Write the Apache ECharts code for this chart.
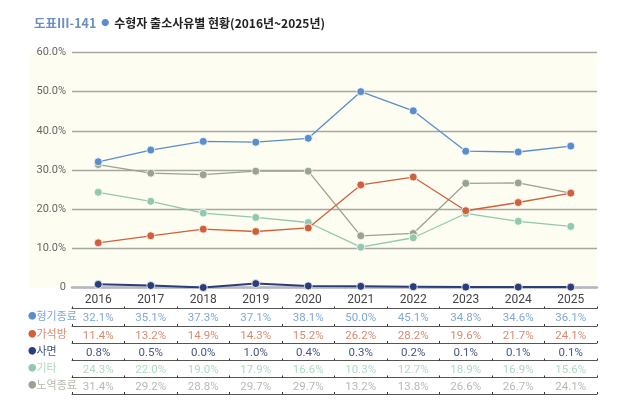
<!DOCTYPE html>
<html>
<head>
<meta charset="utf-8">
<script src="https://cdn.jsdelivr.net/npm/echarts@6/dist/echarts.min.js"></script>
<style>
  html, body { margin: 0; padding: 0; background: #fff; }
  #chart { width: 625px; height: 409px; }
</style>
</head>
<body>
<div id="chart"></div>
<script>
// 연도 (x축)
var years = ['2016', '2017', '2018', '2019', '2020', '2021', '2022', '2023', '2024', '2025'];

// 출소사유별 비율 (%)
var names = ['형기종료', '가석방', '사면', '기타', '노역종료'];
var termEnd  = [32.1, 35.1, 37.3, 37.1, 38.1, 50.0, 45.1, 34.8, 34.6, 36.1];
var parole   = [11.4, 13.2, 14.9, 14.3, 15.2, 26.2, 28.2, 19.6, 21.7, 24.1];
var pardon   = [0.8, 0.5, 0.0, 1.0, 0.4, 0.3, 0.2, 0.1, 0.1, 0.1];
var others   = [24.3, 22.0, 19.0, 17.9, 16.6, 10.3, 12.7, 18.9, 16.9, 15.6];
var labourEnd = [31.4, 29.2, 28.8, 29.7, 29.7, 13.2, 13.8, 26.6, 26.7, 24.1];
var values = [termEnd, parole, pardon, others, labourEnd];

// y축 눈금
var yTicks = [0, 10, 20, 30, 40, 50, 60];

var lineColors = ['#5a8dcb', '#d0603b', '#2c3d7c', '#92c8ae', '#9aa390'];
var textColors = ['#7ea9d9', '#d98a6f', '#45548a', '#aed9c3', '#b7bab0'];

var gridTop = 52.5, gridBottom = 121.5, gridLeft = 72, gridRight = 28;
var rowOffsets = [21, 38.5, 55.5, 73, 90]; // 표 각 행의 윗줄 위치(축 아래 거리)
var lastLine = 106.5;

var chart = echarts.init(document.getElementById('chart'));

var xAxes = [{
  type: 'category',
  data: years,
  boundaryGap: true,
  axisLine: { show: true, lineStyle: { color: '#b4b8c2', width: 2.5 } },
  axisTick: { show: false },
  axisLabel: { color: '#444', fontSize: 12, margin: 6, fontFamily: 'Roboto' }
}];

// 표 형태의 데이터 행: 추가 x축으로 그림
for (var i = 0; i < values.length; i++) {
  (function (k) {
    xAxes.push({
      type: 'category',
      data: years,
      position: 'bottom',
      offset: rowOffsets[k],
      boundaryGap: true,
      axisLine: { show: true, lineStyle: { color: '#555', width: 1 } },
      axisTick: { show: true, inside: true, length: 2, lineStyle: { color: '#333' } },
      axisLabel: {
        color: textColors[k], fontSize: 11.5, margin: 4, fontFamily: 'Roboto',
        formatter: function (v, idx) { return values[k][idx].toFixed(1) + '%'; }
      },
      name: '{d|●}{t|' + names[k] + '}',
      nameLocation: 'start',
      nameGap: 44,
      nameTextStyle: {
        align: 'left',
        verticalAlign: 'top',
        padding: [2, 0, 0, 0],
        rich: {
          d: { color: lineColors[k], fontSize: 8.5, fontFamily: 'Noto Sans CJK KR' },
          t: { color: textColors[k], fontSize: 11, fontFamily: 'Noto Sans CJK KR' }
        }
      }
    });
  })(i);
}
xAxes.push({
  type: 'category',
  data: years,
  position: 'bottom',
  offset: lastLine,
  axisLine: { show: true, lineStyle: { color: '#555', width: 1 } },
  axisTick: { show: true, inside: true, length: 2, lineStyle: { color: '#333' } },
  axisLabel: { show: false }
});

var series = values.map(function (d, k) {
  return {
    name: names[k],
    type: 'line',
    data: d,
    symbol: 'circle',
    symbolSize: 8,
    itemStyle: { color: lineColors[k], borderColor: '#fff', borderWidth: 0.8 },
    lineStyle: { color: lineColors[k], width: k === 2 ? 2 : 1.3 },
    z: 5 - k
  };
});

chart.setOption({
  animation: false,
  title: {
    text: '{a|도표Ⅲ-141} {b|●} {c|수형자 출소사유별 현황(2016년~2025년)}',
    left: 29, top: 9,
    textStyle: {
      rich: {
        a: { color: '#6b8fc3', fontSize: 12.5, fontFamily: 'Noto Sans CJK KR' },
        b: { color: '#5a8dcb', fontSize: 8, fontFamily: 'Noto Sans CJK KR' },
        c: { color: '#222', fontSize: 12, fontWeight: 'bold', fontFamily: 'Noto Sans CJK KR' }
      }
    }
  },
  graphic: [{
    type: 'rect',
    z: -10,
    shape: { x: 30, y: gridTop, width: 625 - gridRight - 30, height: 409 - gridBottom - gridTop },
    style: { fill: '#fdfdf1' }
  }],
  grid: { top: gridTop, bottom: gridBottom, left: gridLeft, right: gridRight },
  xAxis: xAxes,
  yAxis: {
    type: 'value',
    min: yTicks[0],
    max: yTicks[yTicks.length - 1],
    interval: 10,
    axisLine: { show: false },
    axisTick: { show: false },
    splitLine: { lineStyle: { color: '#a8a8a2', width: 1.3 } },
    axisLabel: {
      color: '#666', fontSize: 11, margin: 6, fontFamily: 'Roboto',
      formatter: function (v) { return v === 0 ? '0' : v.toFixed(1) + '%'; }
    }
  },
  series: series
});
</script>
</body>
</html>
